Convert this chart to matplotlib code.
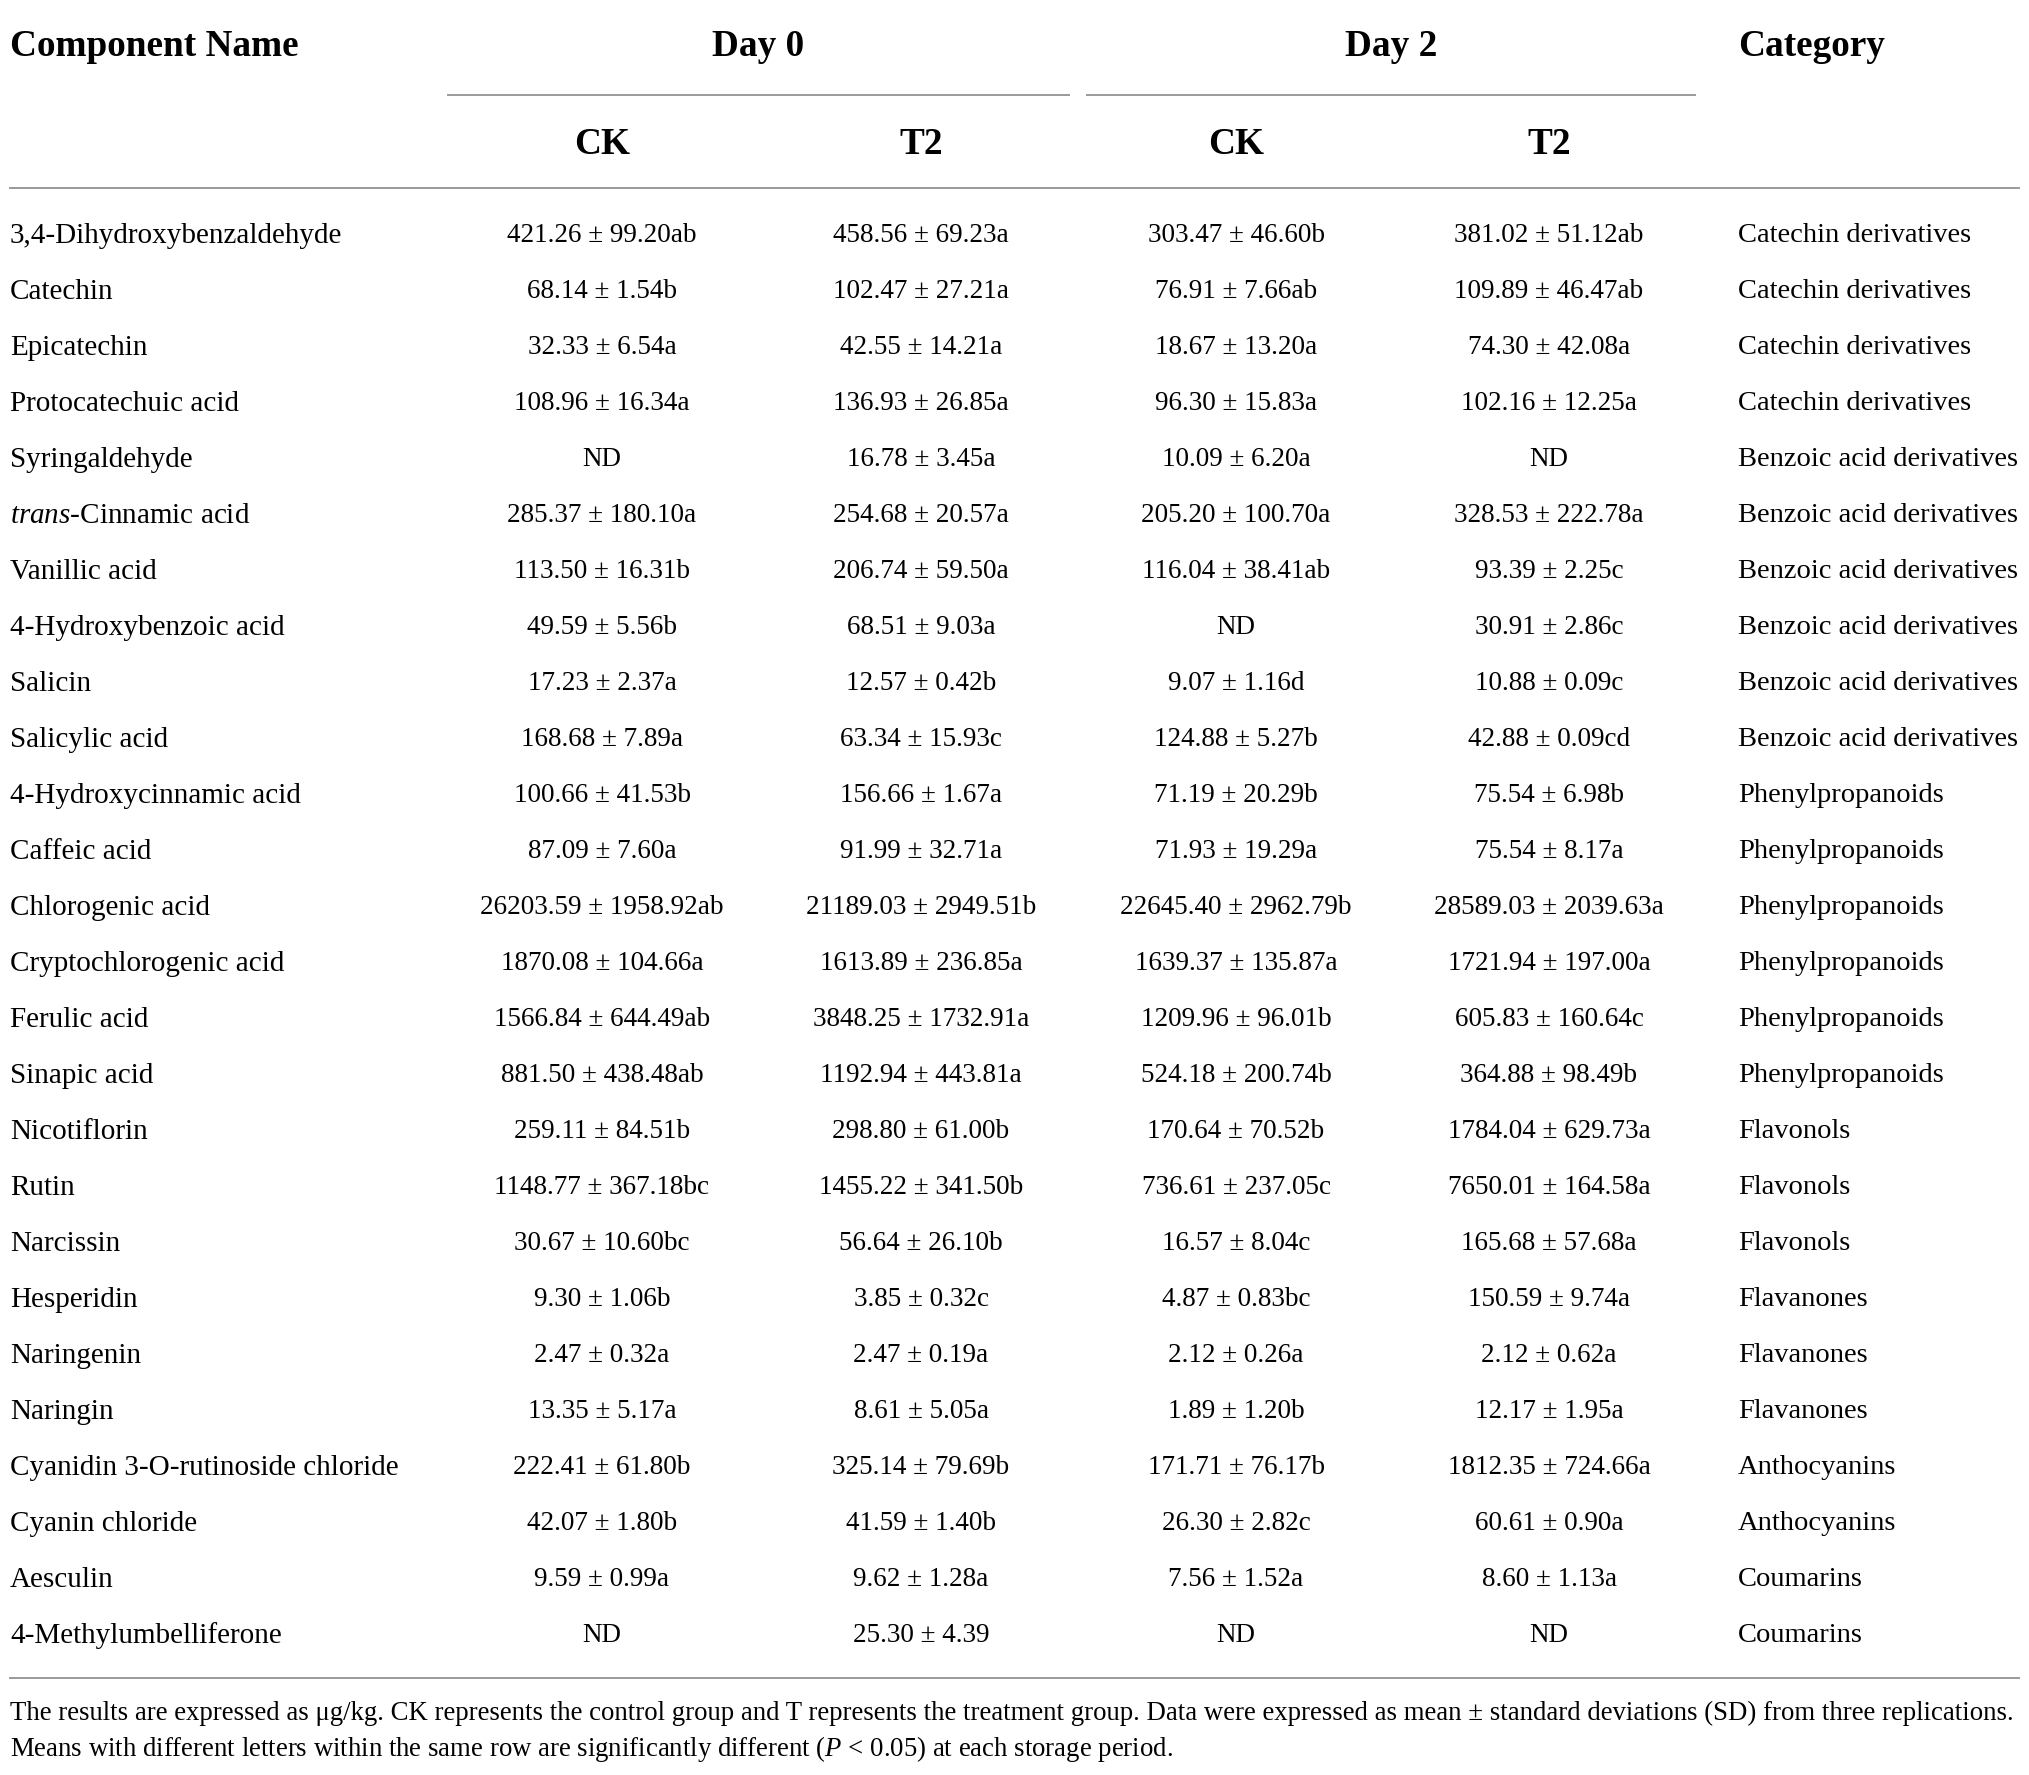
import matplotlib
matplotlib.use("Agg")
import matplotlib.pyplot as plt

plt.rcParams['font.family'] = ['Liberation Serif', 'DejaVu Serif']
plt.rcParams['mathtext.fontset'] = 'custom'
plt.rcParams['mathtext.rm'] = 'Liberation Serif'
plt.rcParams['mathtext.it'] = 'Liberation Serif:italic'

# table contents
names = ["3,4-Dihydroxybenzaldehyde", "Catechin", "Epicatechin", "Protocatechuic acid",
         "Syringaldehyde", r"$\mathit{trans}$-Cinnamic acid", "Vanillic acid",
         "4-Hydroxybenzoic acid", "Salicin", "Salicylic acid", "4-Hydroxycinnamic acid",
         "Caffeic acid", "Chlorogenic acid", "Cryptochlorogenic acid", "Ferulic acid",
         "Sinapic acid", "Nicotiflorin", "Rutin", "Narcissin", "Hesperidin", "Naringenin",
         "Naringin", "Cyanidin 3-O-rutinoside chloride", "Cyanin chloride", "Aesculin",
         "4-Methylumbelliferone"]
ck_day0 = ["421.26 ± 99.20ab", "68.14 ± 1.54b", "32.33 ± 6.54a", "108.96 ± 16.34a", "ND",
           "285.37 ± 180.10a", "113.50 ± 16.31b", "49.59 ± 5.56b", "17.23 ± 2.37a",
           "168.68 ± 7.89a", "100.66 ± 41.53b", "87.09 ± 7.60a", "26203.59 ± 1958.92ab",
           "1870.08 ± 104.66a", "1566.84 ± 644.49ab", "881.50 ± 438.48ab", "259.11 ± 84.51b",
           "1148.77 ± 367.18bc", "30.67 ± 10.60bc", "9.30 ± 1.06b", "2.47 ± 0.32a",
           "13.35 ± 5.17a", "222.41 ± 61.80b", "42.07 ± 1.80b", "9.59 ± 0.99a", "ND"]
t2_day0 = ["458.56 ± 69.23a", "102.47 ± 27.21a", "42.55 ± 14.21a", "136.93 ± 26.85a",
           "16.78 ± 3.45a", "254.68 ± 20.57a", "206.74 ± 59.50a", "68.51 ± 9.03a",
           "12.57 ± 0.42b", "63.34 ± 15.93c", "156.66 ± 1.67a", "91.99 ± 32.71a",
           "21189.03 ± 2949.51b", "1613.89 ± 236.85a", "3848.25 ± 1732.91a",
           "1192.94 ± 443.81a", "298.80 ± 61.00b", "1455.22 ± 341.50b", "56.64 ± 26.10b",
           "3.85 ± 0.32c", "2.47 ± 0.19a", "8.61 ± 5.05a", "325.14 ± 79.69b",
           "41.59 ± 1.40b", "9.62 ± 1.28a", "25.30 ± 4.39"]
ck_day2 = ["303.47 ± 46.60b", "76.91 ± 7.66ab", "18.67 ± 13.20a", "96.30 ± 15.83a",
           "10.09 ± 6.20a", "205.20 ± 100.70a", "116.04 ± 38.41ab", "ND", "9.07 ± 1.16d",
           "124.88 ± 5.27b", "71.19 ± 20.29b", "71.93 ± 19.29a", "22645.40 ± 2962.79b",
           "1639.37 ± 135.87a", "1209.96 ± 96.01b", "524.18 ± 200.74b", "170.64 ± 70.52b",
           "736.61 ± 237.05c", "16.57 ± 8.04c", "4.87 ± 0.83bc", "2.12 ± 0.26a",
           "1.89 ± 1.20b", "171.71 ± 76.17b", "26.30 ± 2.82c", "7.56 ± 1.52a", "ND"]
t2_day2 = ["381.02 ± 51.12ab", "109.89 ± 46.47ab", "74.30 ± 42.08a", "102.16 ± 12.25a", "ND",
           "328.53 ± 222.78a", "93.39 ± 2.25c", "30.91 ± 2.86c", "10.88 ± 0.09c",
           "42.88 ± 0.09cd", "75.54 ± 6.98b", "75.54 ± 8.17a", "28589.03 ± 2039.63a",
           "1721.94 ± 197.00a", "605.83 ± 160.64c", "364.88 ± 98.49b", "1784.04 ± 629.73a",
           "7650.01 ± 164.58a", "165.68 ± 57.68a", "150.59 ± 9.74a", "2.12 ± 0.62a",
           "12.17 ± 1.95a", "1812.35 ± 724.66a", "60.61 ± 0.90a", "8.60 ± 1.13a", "ND"]
categories = ["Catechin derivatives"] * 4 + ["Benzoic acid derivatives"] * 6 + \
             ["Phenylpropanoids"] * 6 + ["Flavonols"] * 3 + ["Flavanones"] * 3 + \
             ["Anthocyanins"] * 2 + ["Coumarins"] * 2
groups = ["Day 0", "Day 2"]
subheads = ["CK", "T2", "CK", "T2"]
footnote = ["The results are expressed as μg/kg. CK represents the control group and T represents "
            "the treatment group. Data were expressed as mean ± standard deviations (SD) from three replications.",
            r"Means with different letters within the same row are significantly different ($\mathit{P}$ < 0.05) "
            "at each storage period."]

W, H = 2029, 1775
fig = plt.figure(figsize=(W / 100, H / 100), dpi=100)
ax = fig.add_axes([0, 0, 1, 1])
ax.set_xlim(0, W)
ax.set_ylim(H, 0)
ax.axis('off')

fs = 21       # names
cfs = 20.5    # categories
nfs = 19.5    # numeric cells
hfs = 26.8    # header
line_c = '#9a9a9a'
col_x = [602, 921, 1236, 1549]
name_x = 10
cat_x = 1738

# header
hy = 46
ax.text(name_x, hy, "Component Name", fontsize=hfs, fontweight='bold', va='center', ha='left')
ax.text(758, hy, groups[0], fontsize=hfs, fontweight='bold', va='center', ha='center')
ax.text(1391, hy, groups[1], fontsize=hfs, fontweight='bold', va='center', ha='center')
ax.text(cat_x, hy, "Category", fontsize=hfs, fontweight='bold', va='center', ha='left')
ax.plot([448, 1069], [94.5, 94.5], color=line_c, lw=1.4)
ax.plot([1087, 1695], [94.5, 94.5], color=line_c, lw=1.4)
for x, s in zip(col_x, subheads):
    ax.text(x, 144, s, fontsize=hfs, fontweight='bold', va='center', ha='center')
ax.plot([10, 2019], [187.6, 187.6], color=line_c, lw=1.4)

# body
y0, dy = 236, 56.0
cols = [ck_day0, t2_day0, ck_day2, t2_day2]
for i in range(len(names)):
    y = y0 + i * dy
    ax.text(name_x, y, names[i], fontsize=fs, va='center', ha='left')
    for x, col in zip(col_x, cols):
        ax.text(x, y, col[i], fontsize=nfs, va='center', ha='center')
    ax.text(cat_x, y, categories[i], fontsize=cfs, va='center', ha='left')

ax.plot([10, 2019], [1678, 1678], color=line_c, lw=1.4)
ax.text(name_x, 1713, footnote[0], fontsize=19.3, va='center', ha='left')
ax.text(name_x, 1749, footnote[1], fontsize=19.3, va='center', ha='left')

fig.savefig("out.png", dpi=100)
